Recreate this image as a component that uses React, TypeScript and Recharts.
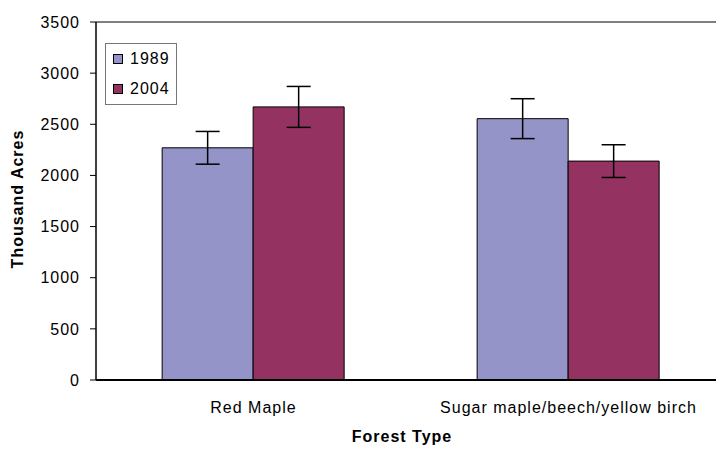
import React from "react";
import {
  BarChart,
  Bar,
  XAxis,
  YAxis,
  ErrorBar,
  Legend,
  Label,
  ReferenceLine,
} from "recharts";

// values (thousand acres)
const forestTypes = ["Red Maple", "Sugar maple/beech/yellow birch"];
const acres1989 = [2270, 2555];
const acres2004 = [2670, 2140];
const err1989 = [160, 195];
const err2004 = [200, 160];
const yTicks = [0, 500, 1000, 1500, 2000, 2500, 3000, 3500];
const boundaryTicks = [0, 1, 2];

const data = forestTypes.map((type, i) => ({
  type,
  y1989: acres1989[i],
  y2004: acres2004[i],
  e1989: err1989[i],
  e2004: err2004[i],
}));

const COLOR_1989 = "#9494C8";
const COLOR_2004 = "#943361";

function LegendBox({ payload }: any) {
  return (
    <div
      style={{
        border: "1px solid #777",
        background: "#fff",
        padding: "0px 6px 0px 7px",
        fontSize: 16,
        lineHeight: "30px",
      }}
    >
      {(payload || []).map((p: any) => (
        <div key={p.value} style={{ display: "flex", alignItems: "center" }}>
          <span
            style={{
              display: "inline-block",
              width: 8,
              height: 8,
              background: p.color,
              border: "1px solid #000",
              marginRight: 7,
            }}
          />
          <span>{p.value}</span>
        </div>
      ))}
    </div>
  );
}

function YTitle({ viewBox }: any) {
  const x = viewBox.x + 17;
  const y = viewBox.y + viewBox.height / 2 - 2;
  return (
    <text
      x={x}
      y={y}
      transform={`rotate(-90, ${x}, ${y})`}
      textAnchor="middle"
      dominantBaseline="central"
      fontWeight="bold"
      fontSize={16}
      fill="#000"
    >
      Thousand Acres
    </text>
  );
}

function XTitle({ viewBox }: any) {
  const x = viewBox.x + viewBox.width / 2 - 9;
  const y = viewBox.y + 55;
  return (
    <text
      x={x}
      y={y}
      textAnchor="middle"
      dominantBaseline="central"
      fontWeight="bold"
      fontSize={16}
      fill="#000"
    >
      Forest Type
    </text>
  );
}

export default function App() {
  return (
    <div
      style={{
        width: 716,
        height: 450,
        overflow: "hidden",
        background: "#fff",
        fontFamily: "'Liberation Sans', Arial, sans-serif",
        letterSpacing: 1,
      }}
    >
      <style>{"body{margin:0;overflow:hidden}"}</style>
      <BarChart
        width={740}
        height={450}
        data={data}
        margin={{ top: 22, right: 14, bottom: 1, left: 0 }}
        barCategoryGap="21%"
        barGap={0}
      >
        <XAxis
          xAxisId="b"
          dataKey="type"
          axisLine={false}
          tickLine={false}
          tickMargin={15}
          height={68}
          tick={{ fill: "#000", fontSize: 16 }}
          interval={0}
        >
          <Label content={<XTitle />} />
        </XAxis>
        <XAxis
          xAxisId="a"
          type="number"
          domain={[0, 2]}
          ticks={boundaryTicks}
          allowDataOverflow
          tick={false}
          tickSize={6}
          height={1}
          axisLine={{ stroke: "#000", strokeWidth: 2 }}
          tickLine={{ stroke: "#000" }}
        />
        <YAxis
          domain={[0, 3500]}
          ticks={yTicks}
          width={96}
          tickSize={6}
          tickMargin={10}
          tick={{ fill: "#000", fontSize: 16 }}
          axisLine={{ stroke: "#000", strokeWidth: 1.5 }}
          tickLine={{ stroke: "#000" }}
        >
          <Label content={<YTitle />} />
        </YAxis>
        <ReferenceLine y={3500} xAxisId="b" stroke="#000" strokeWidth={1} />
        <Legend
          layout="vertical"
          verticalAlign="middle"
          align="center"
          content={<LegendBox />}
          wrapperStyle={{ left: 105, top: 43, width: "auto" }}
        />
        <Bar
          xAxisId="b"
          dataKey="y1989"
          name="1989"
          fill={COLOR_1989}
          stroke="#000"
          strokeWidth={1}
          isAnimationActive={false}
        >
          <ErrorBar dataKey="e1989" width={12} stroke="#000" strokeWidth={1.5} direction="y" />
        </Bar>
        <Bar
          xAxisId="b"
          dataKey="y2004"
          name="2004"
          fill={COLOR_2004}
          stroke="#000"
          strokeWidth={1}
          isAnimationActive={false}
        >
          <ErrorBar dataKey="e2004" width={12} stroke="#000" strokeWidth={1.5} direction="y" />
        </Bar>
      </BarChart>
    </div>
  );
}
